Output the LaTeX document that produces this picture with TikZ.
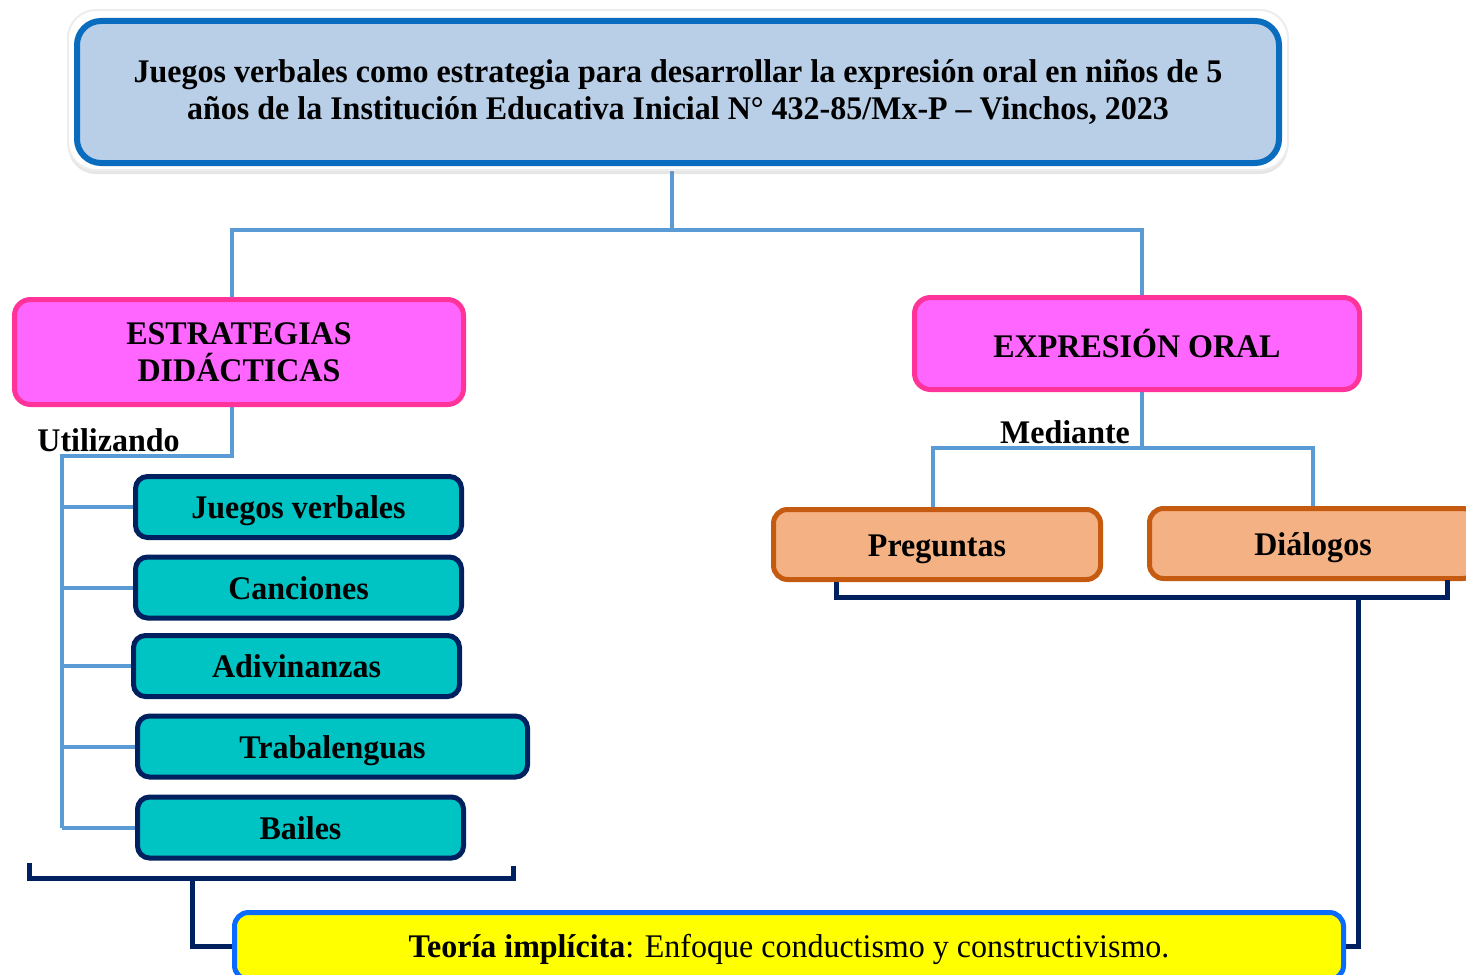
\documentclass[tikz,border=0pt]{standalone}
\usepackage{fontspec}
\setmainfont{Liberation Serif}[FakeStretch=0.97]
\usepackage{tikz}
\usetikzlibrary{backgrounds}
\usetikzlibrary{shadows}
\usepackage{xcolor}
\definecolor{titfill}{HTML}{B9CFE7}
\definecolor{titline}{HTML}{0A6CBF}
\definecolor{lnk}{HTML}{5B9BD5}
\definecolor{pinkfill}{HTML}{FF66FF}
\definecolor{pinkline}{HTML}{FF3399}
\definecolor{tealfill}{HTML}{00C4C4}
\definecolor{navy}{HTML}{002060}
\definecolor{orfill}{HTML}{F4B183}
\definecolor{orline}{HTML}{C55A11}
\definecolor{teoline}{HTML}{0A6CFF}
\definecolor{teofill}{HTML}{FFFF00}
\tikzset{
	box/.style={rounded corners=8pt, line width=2.5pt, align=center, inner sep=0pt, font=\fontsize{16.5}{18.5}\selectfont\bfseries},
	catbox/.style={box, draw=pinkline, fill=pinkfill},
	onebox/.style={box, text height=11.5pt, text depth=0pt},
	itembox/.style={onebox, draw=navy, fill=tealfill, rounded corners=6pt, minimum width=163pt, minimum height=30.5pt},
	meanbox/.style={onebox, draw=orline, fill=orfill, rounded corners=7pt, minimum width=163.5pt, minimum height=35pt},
	link/.style={draw=lnk, line width=2pt},
	brk/.style={draw=navy, line width=2.5pt},
	lbl/.style={font=\fontsize{16.5}{18.5}\selectfont\bfseries, inner sep=0pt}
}

\begin{document}
\begin{tikzpicture}[x=0.5pt,y=-0.5pt]
		\useasboundingbox (0,0) rectangle (1466,974);
		%title
		\node[fill=white, draw=black!7, line width=1pt, rounded corners=14pt, minimum width=610pt, minimum height=80pt, drop shadow={shadow xshift=0pt, shadow yshift=-2pt, opacity=0.2}] (frame) at (678,90) {};
		\node[box, draw=titline, fill=titfill, line width=3pt, rounded corners=12pt, minimum width=601pt, minimum height=71pt] (title) at (678,92) {Juegos verbales como estrategia para desarrollar la expresión oral en niños de 5\\años de la Institución Educativa Inicial N° 432-85/Mx-P – Vinchos, 2023};
		%categories
		\node[catbox, minimum width=224.5pt, minimum height=52.5pt] (estr) at (239,352) {ESTRATEGIAS\\DIDÁCTICAS};
		\node[catbox, minimum width=222.5pt, minimum height=46pt] (expr) at (1137,343.5) {EXPRESIÓN ORAL};
		\node[lbl, anchor=west] (util) at (37,440) {Utilizando};
		\node[lbl] (medi) at (1065,432) {Mediante};
		%strategies
		\node[itembox] (jv) at (298.5,507) {Juegos verbales};
		\node[itembox] (can) at (298.5,587.5) {Canciones};
		\node[itembox] (adi) at (296.5,666) {Adivinanzas};
		\node[itembox, minimum width=195pt] (tra) at (332.5,746.5) {Trabalenguas};
		\node[itembox] (bai) at (300.5,827.5) {Bailes};
		%oral expression
		\node[meanbox] (pre) at (937,544.5) {Preguntas};
		\node[meanbox] (dia) at (1313,543.5) {Diálogos};
		%theory
		\node[onebox, draw=teoline, fill=teofill, rounded corners=7pt, minimum width=554.5pt, minimum height=33.5pt, font=\fontsize{16.5}{18.5}\selectfont] (teo) at (789,946) {\textbf{Teoría implícita}: Enfoque conductismo y constructivismo.};
		\begin{scope}[on background layer]
			%title links
			\coordinate (hub) at (672,230);
			\draw[link] (frame.south -| hub) -- (hub);
			\draw[link] ([xshift=-3.5pt]estr.north) |- (hub) -| ([xshift=2.5pt]expr.north);
			%utilizando
			\coordinate (trunk) at (62,456);
			\draw[link] ([xshift=-3.5pt]estr.south) |- (trunk) -- (trunk |- bai.west);
			\foreach \n in {jv,can,adi,tra,bai}
				\draw[link] (trunk |- \n.west) -- (\n.west);
			%mediante
			\coordinate (med) at (1142,448);
			\draw[link] (expr.south -| med) -- (med);
			\draw[link] ([xshift=-2pt]pre.north) |- (med) -| (dia.north);
		\end{scope}
		%brackets
		\coordinate (lbl) at (29,863);
		\coordinate (lbase) at (29,878);
		\coordinate (lbr) at (513,866);
		\coordinate (ldrop) at (192,878);
		\draw[brk] (lbl) -- (lbase) -| (lbr);
		\draw[brk] (ldrop) |- (teo.west);
		\coordinate (rbl) at (836,582);
		\coordinate (rbase) at (836,597);
		\coordinate (rbr) at (1447,580);
		\coordinate (rdrop) at (1358,597);
		\draw[brk] (rbl) -- (rbase) -| (rbr);
		\draw[brk] (rdrop) |- (teo.east);
	\end{tikzpicture}
\end{document}
